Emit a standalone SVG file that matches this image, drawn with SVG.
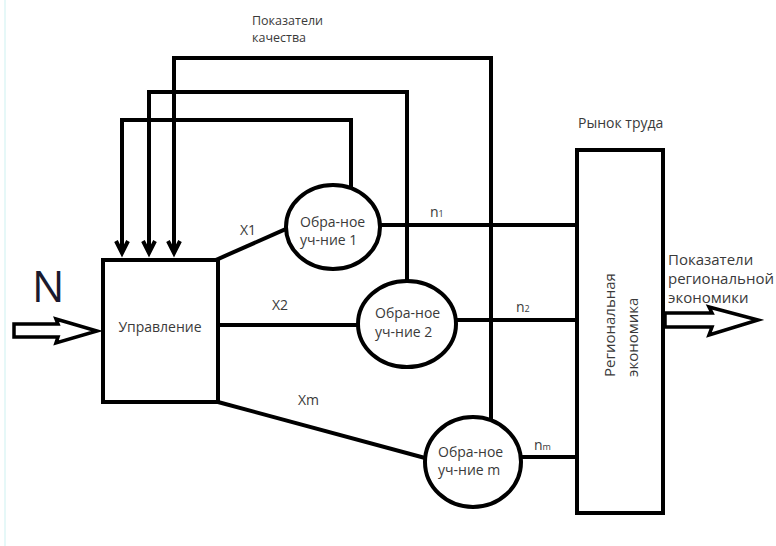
<svg xmlns="http://www.w3.org/2000/svg" width="776" height="546" viewBox="0 0 776 546">
<defs>
<style>
.ln{fill:none;stroke:#000;stroke-width:4;stroke-linejoin:miter;stroke-linecap:square}
.ah{fill:none;stroke:#000;stroke-width:4;stroke-linejoin:miter;stroke-linecap:butt}
.nd{fill:#fff;stroke:#000;stroke-width:4}
.t{font-family:"Open Sans","Noto Sans",sans-serif;font-size:14px;fill:#3a3a3a}
.ts{font-family:"Open Sans","Noto Sans",sans-serif;font-size:12.5px;fill:#3a3a3a}
.tl{font-family:"Open Sans","Noto Sans",sans-serif;font-size:15px;fill:#3a3a3a}
.hol{fill:#fff;stroke:#000;stroke-width:3.5;stroke-linejoin:miter}
</style>
</defs>
<rect width="776" height="546" fill="#fff"/>
<line x1="5" y1="0" x2="5" y2="546" stroke="#e6f8f8" stroke-width="2"/>

<g id="connectors">
<path class="ln" d="M351,188 V120 H122 V250"/>
<path class="ln" d="M407,281 V92 H149 V250"/>
<path class="ln" d="M491,420 V58 H174 V250"/>
<path class="ah" d="M116,241 L122,253 L128,241"/>
<path class="ah" d="M143,241 L149,253 L155,241"/>
<path class="ah" d="M168,241 L174,253 L180,241"/>
<path class="ln" d="M218,259 L286,229"/>
<path class="ln" d="M218,325 H358"/>
<path class="ln" d="M218,402 L425,458"/>
<path class="ln" d="M380,225 H577"/>
<path class="ln" d="M456,320 H577"/>
<path class="ln" d="M521,457 H577"/>
<path class="hol" d="M14,324 H58 L56,319 L97,331 L56,343 L58,337 H14 Z"/>
<path class="hol" d="M665,313 H712 L709,307 L758,320 L709,335 L712,327 H665 Z"/>
<text class="t" x="240" y="235">X1</text>
<text class="t" x="272" y="310">X2</text>
<text class="t" x="298" y="405">Xm</text>
<text class="t" x="430" y="217">n<tspan font-size="9">1</tspan></text>
<text class="t" x="516" y="312">n<tspan font-size="9">2</tspan></text>
<text class="t" x="534" y="450">n<tspan font-size="9">m</tspan></text>
</g>

<g id="upravlenie">
<rect class="nd" x="103" y="260" width="115" height="142"/>
<text class="t" x="160" y="332" text-anchor="middle">Управление</text>
</g>

<g id="N">
<text x="32" y="302" font-family="'Open Sans','Noto Sans',sans-serif" font-size="43" fill="#1a1a2e">N</text>
</g>

<g id="uch1">
<ellipse class="nd" cx="333" cy="227" rx="47" ry="42"/>
<text class="t" x="300" y="227">Обра-ное</text>
<text class="t" x="300" y="245">уч-ние 1</text>
</g>

<g id="uch2">
<ellipse class="nd" cx="407" cy="324" rx="49" ry="43"/>
<text class="t" x="375" y="318">Обра-ное</text>
<text class="t" x="375" y="337">уч-ние 2</text>
</g>

<g id="uchm">
<ellipse class="nd" cx="473" cy="462" rx="48" ry="45"/>
<text class="t" x="438" y="457">Обра-ное</text>
<text class="t" x="438" y="475">уч-ние m</text>
</g>

<g id="region">
<rect class="nd" x="577" y="150" width="86" height="363"/>
<text class="t" x="578" y="128">Рынок труда</text>
<text class="tl" transform="translate(615,377) rotate(-90)">Региональная</text>
<text class="tl" transform="translate(638,377) rotate(-90)">экономика</text>
</g>

<g id="labels">
<text class="ts" x="252" y="25">Показатели</text>
<text class="ts" x="252" y="42">качества</text>
<text class="tl" x="668" y="265">Показатели</text>
<text class="tl" x="668" y="284">региональной</text>
<text class="tl" x="668" y="303">экономики</text>
</g>
</svg>
